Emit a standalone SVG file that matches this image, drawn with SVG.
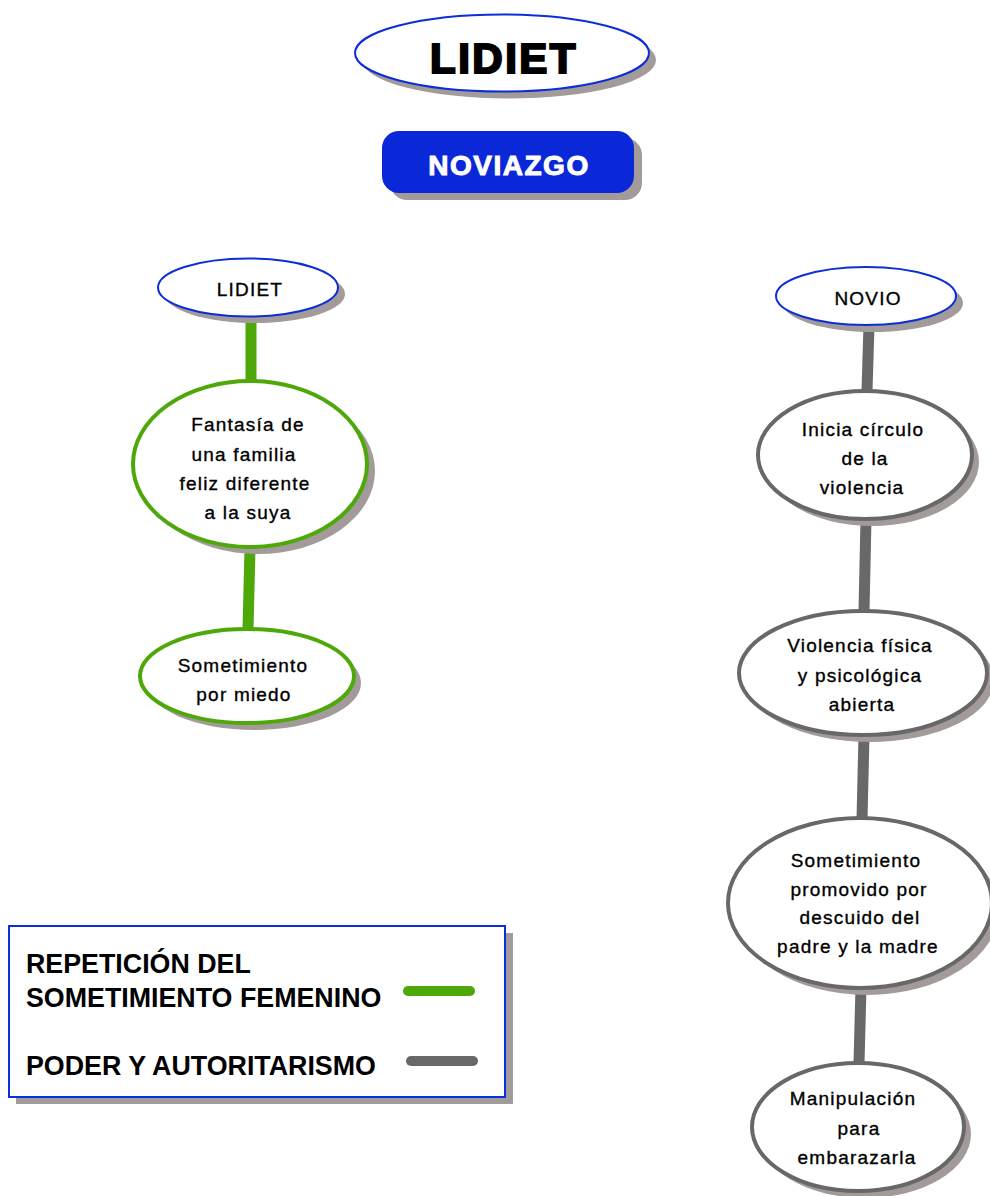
<svg xmlns="http://www.w3.org/2000/svg" width="990" height="1196" viewBox="0 0 990 1196">
  <style>
    .shadow { fill: #a39a9a; stroke: none; }
    .blue { fill: #ffffff; stroke: #0b2fd6; stroke-width: 2; }
    .green { fill: #ffffff; stroke: #4ea80a; stroke-width: 4; }
    .gray { fill: #ffffff; stroke: #686868; stroke-width: 4; }
    .lbl { font-family: "Liberation Sans", Arial, sans-serif; font-size: 19px; letter-spacing: 1.2px; fill: #000; stroke: #000; stroke-width: 0.35; text-anchor: middle; }
    .legend { font-family: "Liberation Sans", Arial, sans-serif; font-weight: bold; font-size: 26.8px; fill: #000; }
    .c-green { stroke: #4ea80a; stroke-width: 11; fill: none; }
    .c-gray { stroke: #686868; stroke-width: 11; fill: none; }
  </style>

  <!-- title -->
  <g id="title">
    <ellipse class="shadow" cx="509" cy="60" rx="147" ry="38.5"/>
    <ellipse class="blue" cx="502" cy="53" rx="147" ry="38.5"/>
    <text x="504" y="73" text-anchor="middle" font-family="Liberation Sans, Arial, sans-serif" font-weight="bold" font-size="42" letter-spacing="2.5" stroke="#000" stroke-width="2.2" fill="#000">LIDIET</text>
  </g>

  <g id="noviazgo">
    <rect class="shadow" x="390" y="138" width="252" height="62" rx="17"/>
    <rect x="382" y="131" width="252" height="62" rx="17" fill="#0a28d8"/>
    <text x="509" y="175" text-anchor="middle" font-family="Liberation Sans, Arial, sans-serif" font-weight="bold" font-size="28" letter-spacing="1.5" fill="#ffffff" stroke="#ffffff" stroke-width="1">NOVIAZGO</text>
  </g>

  <!-- connectors -->
  <g id="connectors">
    <line class="c-green" x1="251" y1="316" x2="251" y2="382"/>
    <line class="c-green" x1="250" y1="548" x2="248" y2="629"/>
    <line class="c-gray" x1="869" y1="325" x2="867" y2="391"/>
    <line class="c-gray" x1="866" y1="519" x2="864" y2="611"/>
    <line class="c-gray" x1="864" y1="735" x2="862" y2="819"/>
    <line class="c-gray" x1="861" y1="987" x2="859" y2="1063"/>
  </g>

  <!-- left column -->
  <g id="lidiet">
    <ellipse class="shadow" cx="255" cy="294" rx="90" ry="29"/>
    <ellipse class="blue" cx="248" cy="287.5" rx="90" ry="29"/>
    <text class="lbl" x="250" y="296" letter-spacing="1.5">LIDIET</text>
  </g>

  <g id="fantasia">
    <ellipse class="shadow" cx="258" cy="471" rx="117" ry="83"/>
    <ellipse class="green" cx="250" cy="464" rx="117" ry="83"/>
    <text class="lbl" x="248" y="431">Fantasía de</text>
    <text class="lbl" x="244" y="461">una familia</text>
    <text class="lbl" x="245" y="490">feliz diferente</text>
    <text class="lbl" x="248" y="519">a la suya</text>
  </g>

  <g id="sometimiento-miedo">
    <ellipse class="shadow" cx="254" cy="683" rx="107" ry="47"/>
    <ellipse class="green" cx="247" cy="676" rx="107" ry="47"/>
    <text class="lbl" x="243" y="672">Sometimiento</text>
    <text class="lbl" x="244" y="701">por miedo</text>
  </g>

  <!-- right column -->
  <g id="novio">
    <ellipse class="shadow" cx="873" cy="303" rx="90" ry="29"/>
    <ellipse class="blue" cx="866" cy="296" rx="90" ry="29"/>
    <text class="lbl" x="868" y="305" letter-spacing="1.5">NOVIO</text>
  </g>

  <g id="inicia">
    <ellipse class="shadow" cx="872" cy="462" rx="107" ry="64"/>
    <ellipse class="gray" cx="865" cy="455" rx="107" ry="64"/>
    <text class="lbl" x="863" y="436">Inicia círculo</text>
    <text class="lbl" x="865" y="465">de la</text>
    <text class="lbl" x="862" y="494">violencia</text>
  </g>

  <g id="violencia">
    <ellipse class="shadow" cx="870" cy="680" rx="124" ry="62"/>
    <ellipse class="gray" cx="863" cy="673" rx="124" ry="62"/>
    <text class="lbl" x="860" y="652">Violencia física</text>
    <text class="lbl" x="860" y="682">y psicológica</text>
    <text class="lbl" x="862" y="711">abierta</text>
  </g>

  <g id="sometimiento-promovido">
    <ellipse class="shadow" cx="867" cy="910" rx="132" ry="85"/>
    <ellipse class="gray" cx="860" cy="903" rx="132" ry="85"/>
    <text class="lbl" x="856" y="867">Sometimiento</text>
    <text class="lbl" x="859" y="896">promovido por</text>
    <text class="lbl" x="860" y="924">descuido del</text>
    <text class="lbl" x="858" y="953">padre y la madre</text>
  </g>

  <g id="manipulacion">
    <ellipse class="shadow" cx="865" cy="1134" rx="106" ry="64"/>
    <ellipse class="gray" cx="858" cy="1127" rx="106" ry="64"/>
    <text class="lbl" x="853" y="1105">Manipulación</text>
    <text class="lbl" x="859" y="1135">para</text>
    <text class="lbl" x="857" y="1164">embarazarla</text>
  </g>

  <!-- legend -->
  <g id="legend">
    <rect class="shadow" x="16" y="933" width="497" height="171"/>
    <rect x="9" y="926" width="496" height="171" fill="#ffffff" stroke="#0b2fd6" stroke-width="2"/>
    <text class="legend" x="26" y="973">REPETICIÓN DEL</text>
    <text class="legend" x="26" y="1007">SOMETIMIENTO FEMENINO</text>
    <text class="legend" x="26" y="1075">PODER Y AUTORITARISMO</text>
    <line x1="408" y1="991" x2="470" y2="991" stroke="#4ea80a" stroke-width="10" stroke-linecap="round"/>
    <line x1="411" y1="1061" x2="473" y2="1061" stroke="#686868" stroke-width="10" stroke-linecap="round"/>
  </g>
</svg>
